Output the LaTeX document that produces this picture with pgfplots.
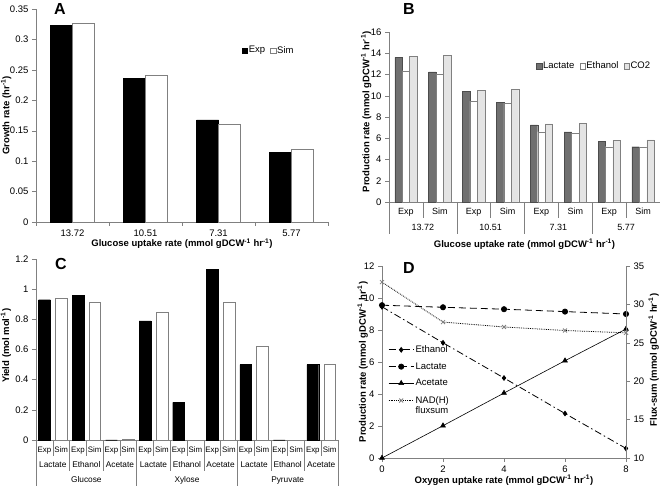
\documentclass[border=0pt]{standalone}
\usepackage{pgfplots}
\pgfplotsset{compat=1.18}
\usepackage{fontspec}
\setmainfont{Liberation Sans}
\definecolor{axgray}{RGB}{128,128,128}
\definecolor{lacgray}{RGB}{112,112,112}
\definecolor{co2gray}{RGB}{228,228,228}
\newcommand{\inv}{\textsuperscript{-1}}
\pgfplotsset{
  base/.style={
    scale only axis, clip=false,
    font=\fontsize{9.5}{11}\selectfont,
    /pgf/number format/assume math mode=true,
    axis line style={axgray},
    tick style={axgray, thin},
    tick align=outside, major tick length=4pt,
    label style={font=\fontsize{9.5}{11}\selectfont\bfseries},
  },
  sq/.style={legend image code/.code={\draw[##1] (0pt,-2.6pt) rectangle (5.2pt,2.6pt);}},
  sqlegend/.style={
    legend style={draw=none, fill=none, inner sep=0pt, anchor=north west,
      /tikz/every even column/.append style={column sep=4pt},
      nodes={inner sep=1.2pt}},
  },
}
\begin{document}
\begin{tikzpicture}
\useasboundingbox (0,0) rectangle (660pt,486pt);

% ---------------- A
\begin{axis}[base, sqlegend,
  at={(36pt,264pt)}, anchor=south west, width=292pt, height=213pt,
  axis x line*=bottom, axis y line*=left,
  xmin=-0.5, xmax=3.5, ymin=0, ymax=0.35,
  ytick={0,0.05,0.1,0.15,0.2,0.25,0.3,0.35},
  yticklabel style={/pgf/number format/fixed, /pgf/number format/precision=2},
  xtick={-0.5,0.5,1.5,2.5,3.5}, xticklabels={},
  ybar=0pt, bar width=0.3,
  legend columns=2,
  legend style={at={(axis description cs:0.705,0.832)}},
  xlabel={Glucose uptake rate (mmol gDCW\inv\ hr\inv)},
  xlabel style={at={(axis description cs:0.5,-0.117)}, anchor=base},
  ylabel={Growth rate (hr\inv)},
  ylabel style={at={(axis description cs:-0.091,0.5)}, anchor=base},
]
\addplot[sq, fill=black, draw=black] coordinates {(0,0.323) (1,0.236) (2,0.168) (3,0.115)};
\addplot[sq, fill=white, draw=axgray] coordinates {(0,0.326) (1,0.242) (2,0.160) (3,0.120)};
\legend{Exp, Sim}
\node[anchor=base] at (axis cs:0,0) [yshift=-14.7pt] {13.72};
\node[anchor=base] at (axis cs:1,0) [yshift=-14.7pt] {10.51};
\node[anchor=base] at (axis cs:2,0) [yshift=-14.7pt] {7.31};
\node[anchor=base] at (axis cs:3,0) [yshift=-14.7pt] {5.77};
\end{axis}
\node[font=\fontsize{16}{18}\selectfont\bfseries] at (60pt,477pt) {A};

% ---------------- B
\begin{axis}[base, sqlegend,
  at={(389pt,284pt)}, anchor=south west, width=271pt, height=170pt,
  axis x line*=bottom, axis y line*=left,
  xmin=-0.5, xmax=7.5, ymin=0, ymax=16,
  ytick={0,2,...,16}, xtick=\empty,
  ybar=0pt, bar width=0.22,
  legend columns=3,
  legend style={at={(axis description cs:0.543,0.832)}},
  xlabel={Glucose uptake rate (mmol gDCW\inv\ hr\inv)},
  xlabel style={at={(axis description cs:0.5,-0.265)}, anchor=base},
  ylabel={Production rate (mmol gDCW\inv\ hr\inv)},
  ylabel style={at={(axis description cs:-0.072,0.53)}, anchor=base},
]
\addplot[sq, fill=lacgray, draw=black!70] coordinates {(0,13.6) (1,12.25) (2,10.4) (3,9.4) (4,7.25) (5,6.6) (6,5.7) (7,5.2)};
\addplot[sq, fill=white, draw=axgray] coordinates {(0,12.35) (1,12.05) (2,9.5) (3,9.3) (4,6.6) (5,6.5) (6,5.2) (7,5.15)};
\addplot[sq, fill=co2gray, draw=axgray] coordinates {(0,13.7) (1,13.8) (2,10.5) (3,10.6) (4,7.35) (5,7.4) (6,5.8) (7,5.85)};
\legend{Lactate, Ethanol, CO2}
\pgfplotsinvokeforeach{0.5,2.5,4.5,6.5}{\draw[axgray] (axis cs:#1,0) -- ([yshift=-16pt]axis cs:#1,0);}
\pgfplotsinvokeforeach{-0.5,1.5,3.5,5.5,7.5}{\draw[axgray] (axis cs:#1,0) -- ([yshift=-32pt]axis cs:#1,0);}
\pgfplotsinvokeforeach{0,2,4,6}{\node[anchor=base, font=\fontsize{9}{10}\selectfont] at (axis cs:#1,0) [yshift=-13pt] {Exp};}
\pgfplotsinvokeforeach{1,3,5,7}{\node[anchor=base, font=\fontsize{9}{10}\selectfont] at (axis cs:#1,0) [yshift=-13pt] {Sim};}
\node[anchor=base, font=\fontsize{9}{10}\selectfont] at (axis cs:0.5,0) [yshift=-28.5pt] {13.72};
\node[anchor=base, font=\fontsize{9}{10}\selectfont] at (axis cs:2.5,0) [yshift=-28.5pt] {10.51};
\node[anchor=base, font=\fontsize{9}{10}\selectfont] at (axis cs:4.5,0) [yshift=-28.5pt] {7.31};
\node[anchor=base, font=\fontsize{9}{10}\selectfont] at (axis cs:6.5,0) [yshift=-28.5pt] {5.77};
\end{axis}
\node[font=\fontsize{16}{18}\selectfont\bfseries] at (409pt,477pt) {B};

% ---------------- C
\begin{axis}[base,
  at={(36pt,46pt)}, anchor=south west, width=302pt, height=181pt,
  axis x line*=bottom, axis y line*=left,
  xmin=-0.5, xmax=17.5, ymin=0, ymax=1.2,
  ytick={0,0.2,0.4,0.6,0.8,1,1.2}, xtick=\empty,
  yticklabel style={/pgf/number format/fixed, /pgf/number format/precision=1},
  ybar, bar shift=0pt, bar width=0.7,
  ylabel={Yield (mol mol\inv)},
  ylabel style={at={(axis description cs:-0.089,0.52)}, anchor=base},
]
\addplot[fill=black, draw=black] coordinates {(0,0.93) (2,0.96) (4,0) (6,0.79) (8,0.25) (10,1.13) (12,0.50) (14,0) (16,0.50)};
\addplot[fill=white, draw=axgray] coordinates {(1,0.94) (3,0.915) (5,0.005) (7,0.845) (9,0) (11,0.915) (13,0.62) (15,0) (17,0.50)};
\pgfplotsinvokeforeach{0.5,2.5,4.5,6.5,8.5,10.5,12.5,14.5,16.5}{\draw[axgray] (axis cs:#1,0) -- ([yshift=-16pt]axis cs:#1,0);}
\pgfplotsinvokeforeach{1.5,3.5,7.5,9.5,13.5,15.5}{\draw[axgray] (axis cs:#1,0) -- ([yshift=-31pt]axis cs:#1,0);}
\pgfplotsinvokeforeach{-0.5,5.5,11.5,17.5}{\draw[axgray] (axis cs:#1,0) -- ([yshift=-46pt]axis cs:#1,0);}
\pgfplotsinvokeforeach{0,2,4,6,8,10,12,14,16}{\node[anchor=base, font=\fontsize{7.9}{8}\selectfont, inner sep=0pt] at (axis cs:#1,0) [yshift=-12.5pt] {Exp};}
\pgfplotsinvokeforeach{1,3,5,7,9,11,13,15,17}{\node[anchor=base, font=\fontsize{7.9}{8}\selectfont, inner sep=0pt] at (axis cs:#1,0) [yshift=-12.5pt] {Sim};}
\pgfplotsinvokeforeach{0.5,6.5,12.5}{\node[anchor=base, font=\fontsize{8.3}{9}\selectfont] at (axis cs:#1,0) [yshift=-27.5pt] {Lactate};}
\pgfplotsinvokeforeach{2.5,8.5,14.5}{\node[anchor=base, font=\fontsize{8.3}{9}\selectfont] at (axis cs:#1,0) [yshift=-27.5pt] {Ethanol};}
\pgfplotsinvokeforeach{4.5,10.5,16.5}{\node[anchor=base, font=\fontsize{8.3}{9}\selectfont] at (axis cs:#1,0) [yshift=-27.5pt] {Acetate};}
\node[anchor=base, font=\fontsize{8.3}{9}\selectfont] at (axis cs:2.5,0) [yshift=-43pt] {Glucose};
\node[anchor=base, font=\fontsize{8.3}{9}\selectfont] at (axis cs:8.5,0) [yshift=-43pt] {Xylose};
\node[anchor=base, font=\fontsize{8.3}{9}\selectfont] at (axis cs:14.5,0) [yshift=-43pt] {Pyruvate};
\end{axis}
\node[font=\fontsize{16}{18}\selectfont\bfseries] at (61pt,222pt) {C};

% ---------------- D (left axis)
\begin{axis}[base,
  at={(382pt,28pt)}, anchor=south west, width=244pt, height=192pt,
  axis x line*=bottom, axis y line*=left,
  xmin=0, xmax=8, ymin=0, ymax=12,
  xtick={0,2,4,6,8}, ytick={0,2,...,12},
  xlabel={Oxygen uptake rate (mmol gDCW\inv\ hr\inv)},
  xlabel style={at={(axis description cs:0.5,-0.133)}, anchor=base},
  ylabel={Production rate (mmol gDCW\inv\ hr\inv)},
  ylabel style={at={(axis description cs:-0.066,0.5)}, anchor=base},
]
\addplot[black, thick, dash pattern=on 7pt off 3pt on 1.5pt off 3pt, mark=diamond*, mark size=2.3pt, mark options={solid}]
  coordinates {(0,9.45) (2,7.2) (4,5.0) (6,2.78) (8,0.6)};
\addplot[black, thick, dash pattern=on 7pt off 4pt, mark=*, mark size=2.6pt, mark options={solid}]
  coordinates {(0,9.55) (2,9.42) (4,9.3) (6,9.15) (8,9.0)};
\addplot[black, semithick, mark=triangle*, mark size=2.8pt]
  coordinates {(0,0) (2,2.02) (4,4.06) (6,6.08) (8,8.06)};
\end{axis}
% ---------------- D (right axis)
\begin{axis}[base,
  at={(382pt,28pt)}, anchor=south west, width=244pt, height=192pt,
  axis x line=none, axis y line*=right,
  xmin=0, xmax=8, ymin=10, ymax=35,
  ytick={10,15,...,35},
  ylabel={Flux-sum (mmol gDCW\inv\ hr\inv)},
  ylabel style={at={(axis description cs:1.127,0.51)}, anchor=base},
  legend image code/.code={\draw[mark repeat=2,mark phase=2,#1] plot coordinates {(0pt,0pt) (12.5pt,0pt) (25pt,0pt)};},
  legend style={draw=none, fill=none, inner sep=0pt, anchor=north west,
    at={(axis description cs:0.025,0.594)}, row sep=5.6pt,
    nodes={inner sep=1.5pt}},
  legend cell align=left,
]
\addlegendimage{black, thick, dash pattern=on 7pt off 3pt on 1.5pt off 3pt, mark=diamond*, mark size=2.3pt, mark options={solid}}
\addlegendentry{Ethanol}
\addlegendimage{black, thick, dash pattern=on 7pt off 4pt, mark=*, mark size=2.6pt, mark options={solid}}
\addlegendentry{Lactate}
\addlegendimage{black, semithick, mark=triangle*, mark size=2.8pt}
\addlegendentry{Acetate}
\addplot[black, thick, densely dotted, mark=x, mark size=2.8pt, mark options={solid, gray}]
  coordinates {(0,32.9) (2,27.7) (4,27.06) (6,26.6) (8,26.3)};
\addlegendentry{\begin{tabular}[t]{@{}l@{}}NAD(H)\\[-1.5pt]fluxsum\end{tabular}}
\end{axis}
\node[font=\fontsize{16}{18}\selectfont\bfseries] at (409pt,218pt) {D};
\end{tikzpicture}
\end{document}
